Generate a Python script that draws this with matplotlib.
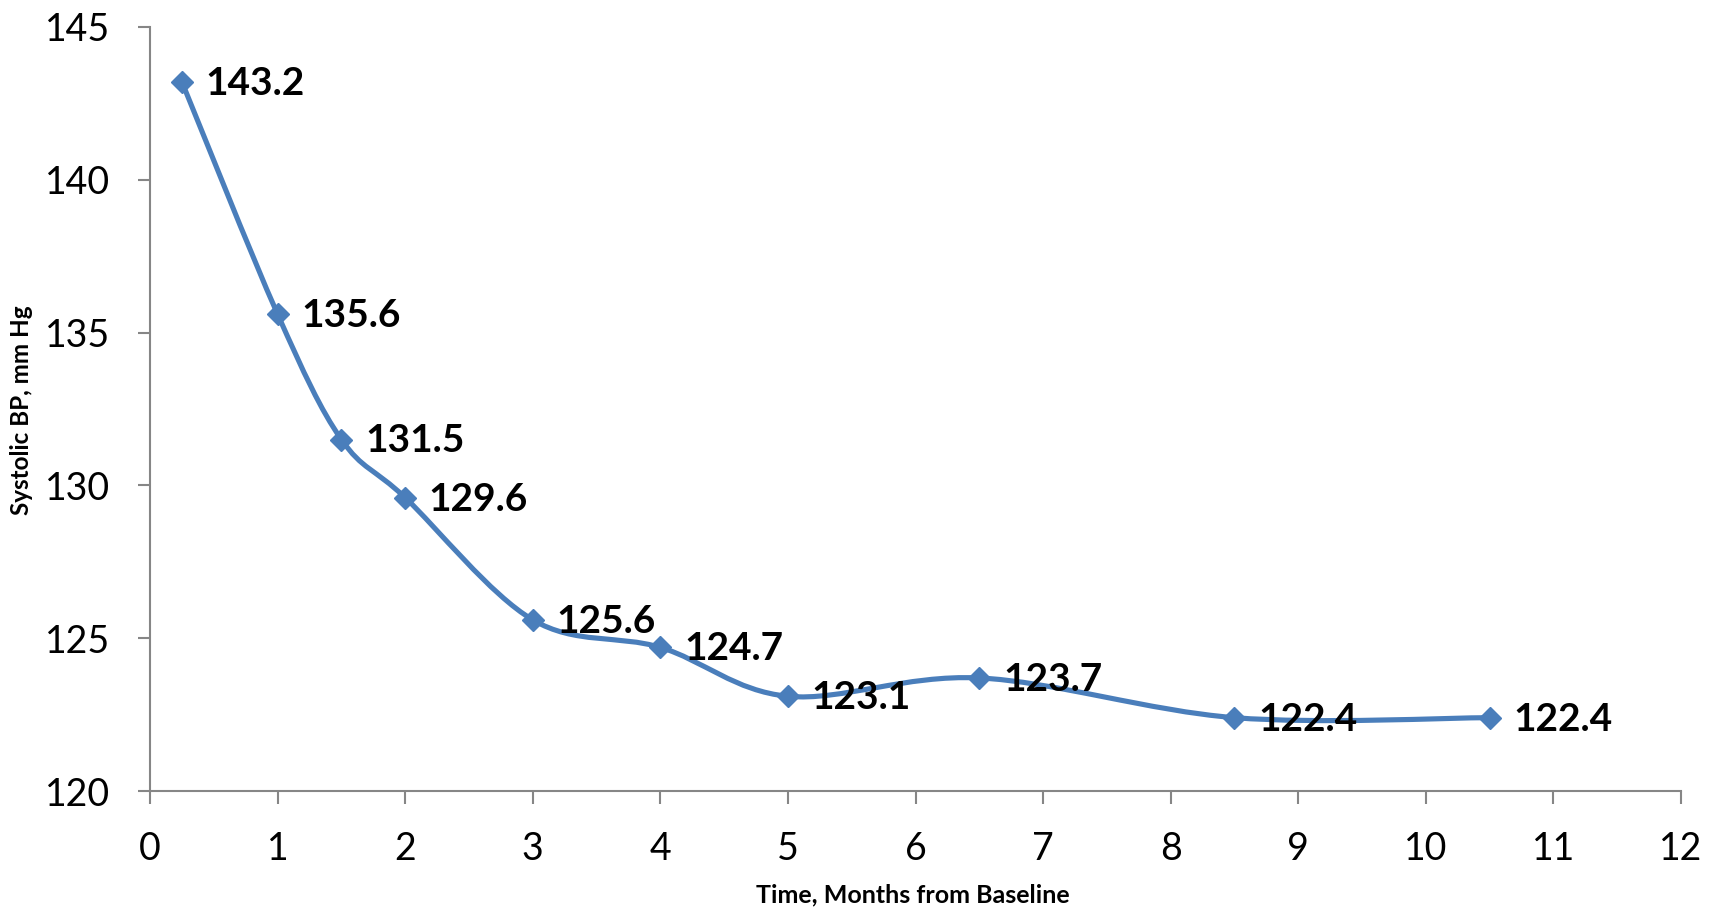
import matplotlib
matplotlib.use('Agg')
import numpy as np
import matplotlib.pyplot as plt
from matplotlib.path import Path
from matplotlib.patches import PathPatch

plt.rcParams['font.family'] = ['Lato', 'DejaVu Sans']

months = [0.25, 1, 1.5, 2, 3, 4, 5, 6.5, 8.5, 10.5]
sbp = [143.2, 135.6, 131.5, 129.6, 125.6, 124.7, 123.1, 123.7, 122.4, 122.4]
labels = ['143.2', '135.6', '131.5', '129.6', '125.6', '124.7', '123.1', '123.7', '122.4', '122.4']

line_col = '#4A7EBB'
axis_col = '#868686'

fig = plt.figure(figsize=(17.17, 9.09), dpi=100)
ax = fig.add_axes([0.0874, 0.1298, 0.8916, 0.8405])

# smoothed line, bezier segments like a spreadsheet "smoothed line"
pts = np.column_stack([months, sbp])
n = len(pts)
verts = [pts[0]]
codes = [Path.MOVETO]
for i in range(n - 1):
    p0 = pts[i - 1] if i > 0 else pts[i]
    p1 = pts[i]
    p2 = pts[i + 1]
    p3 = pts[i + 2] if i + 2 < n else pts[i + 1]
    c1 = p1 + (p2 - p0) / 6.0
    c2 = p2 - (p3 - p1) / 6.0
    verts += [c1, c2, p2]
    codes += [Path.CURVE4] * 3
ax.add_patch(PathPatch(Path(verts, codes), facecolor='none', edgecolor=line_col,
                       lw=3.7, capstyle='round', joinstyle='round', zorder=2))

ax.plot(months, sbp, linestyle='none', marker='D', ms=11, color=line_col,
        mec=line_col, zorder=3)

for x, y, t in zip(months, sbp, labels):
    ax.annotate(t, (x, y), xytext=(17, -1), textcoords='offset points',
                ha='left', va='center', fontsize=28, fontweight='bold', color='black', zorder=4)

ax.set_xlim(0, 12)
ax.set_ylim(120, 145)
ax.set_xticks(range(0, 13))
ax.set_yticks(range(120, 146, 5))

for s in ['top', 'right']:
    ax.spines[s].set_visible(False)
for s in ['left', 'bottom']:
    ax.spines[s].set_color(axis_col)
    ax.spines[s].set_linewidth(1.5)

ax.tick_params(axis='both', colors=axis_col, length=9, width=1.5, labelsize=27, labelcolor='black')
ax.tick_params(axis='x', pad=20)
ax.tick_params(axis='y', pad=20)

fig.text(0.5318, 0.0154, 'Time, Months from Baseline', ha='center', va='center',
         fontsize=18, fontweight='bold')
fig.text(0.0128, 0.549, 'Systolic BP, mm Hg', ha='center', va='center', rotation=90,
         fontsize=17.5, fontweight='bold')

fig.savefig('out.png', dpi=100)
